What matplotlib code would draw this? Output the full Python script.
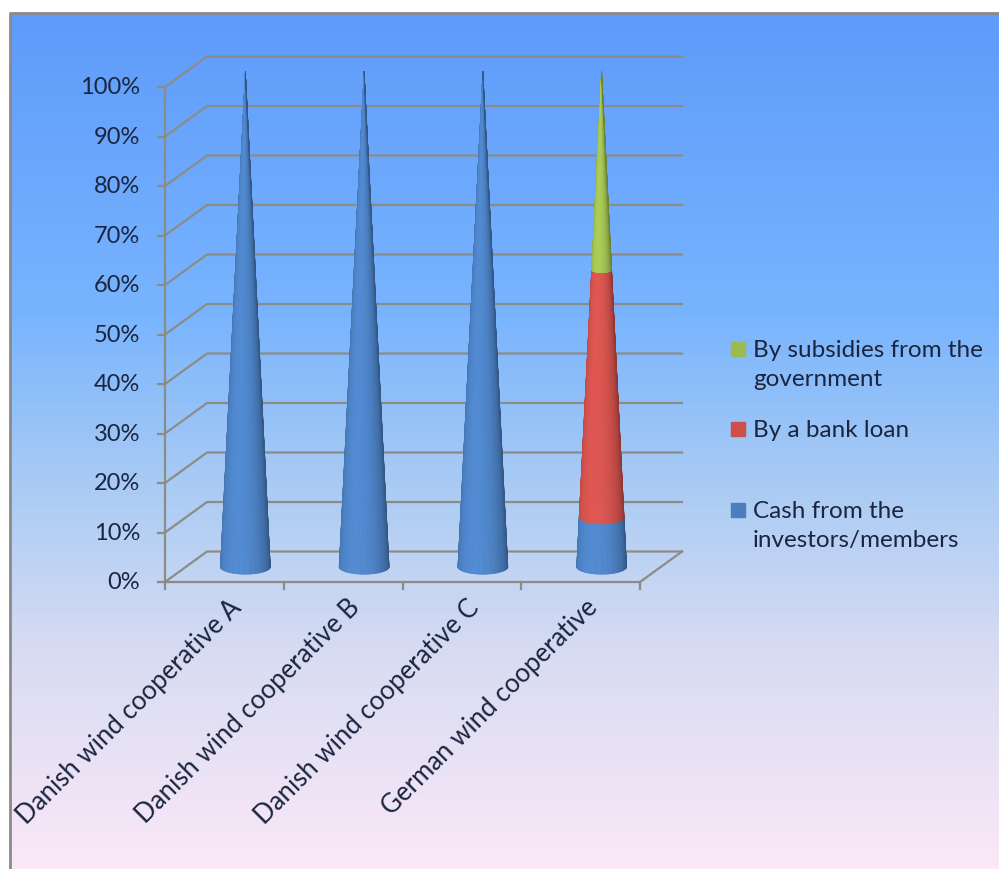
import numpy as np
import matplotlib
matplotlib.use("Agg")
import matplotlib.pyplot as plt
from matplotlib.collections import PolyCollection
from matplotlib.colors import LinearSegmentedColormap, to_rgb
from matplotlib.patches import Rectangle

plt.rcParams["font.family"] = ["Lato", "DejaVu Sans"]

categories = ["Danish wind cooperative A", "Danish wind cooperative B",
              "Danish wind cooperative C", "German wind cooperative"]
series = ["Cash from the\ninvestors/members", "By a bank loan",
          "By subsidies from the\ngovernment"]
cash = [100, 100, 100, 10]
loan = [0, 0, 0, 50]
subsidy = [0, 0, 0, 40]
colors = ["#4a7ebf", "#cc4f4a", "#9bbb4f"]
yticks = [0, 10, 20, 30, 40, 50, 60, 70, 80, 90, 100]

W, H = 999, 870
fig = plt.figure(figsize=(W / 100, H / 100), dpi=100)

# background panel with vertical gradient
bg = fig.add_axes([0, 0, 1, 1])
bg.set_xlim(0, W)
bg.set_ylim(H, 0)
bg.axis("off")
grad = LinearSegmentedColormap.from_list("bg", [
    (0.0, "#5e9bfa"), (0.35, "#78b4fe"), (0.55, "#a9cbf4"),
    (0.75, "#d8dcf2"), (1.0, "#fbe8f8")])
g = np.linspace(0, 1, 256).reshape(-1, 1)
bg.imshow(g, cmap=grad, aspect="auto", extent=[10, W, H, 14], zorder=0)
bg.plot([10, 10, W], [H, 14, 14], color="#8a8a8a", lw=2, zorder=1)

# plot area: x in category units, y in percent
x0, x1, y0, y1 = 165, 640, 583, 88
ax = fig.add_axes([x0 / W, 1 - y0 / H, (x1 - x0) / W, (y0 - y1) / H])
ax.set_xlim(0, len(categories))
ax.set_ylim(0, 100)
ax.patch.set_alpha(0)
for s in ax.spines.values():
    s.set_visible(False)
ax.set_xticks([])
ax.set_yticks([])

px_x = len(categories) / (x1 - x0)
px_y = 100 / (y0 - y1)
dx, dy = 42 * px_x, 30.5 * px_y   # depth offset of the back wall
grid_c = "#8c8c86"

for v in yticks:
    ax.plot([0, dx, len(categories) + dx], [v, v + dy, v + dy],
            color=grid_c, lw=1.6, clip_on=False, zorder=1)
    ax.plot([-7 * px_x, 0], [v, v], color=grid_c, lw=1.6, clip_on=False)
    ax.text(-25 * px_x, v, f"{v}%", ha="right", va="center",
            fontsize=17, color="#1b2540")
ax.plot([0, 0], [0, 100], color=grid_c, lw=1.6, clip_on=False)
ax.plot([0, len(categories), len(categories) + dx], [0, 0, dy],
        color=grid_c, lw=1.6, clip_on=False, zorder=1)
for i in range(len(categories) + 1):
    ax.plot([i, i], [0, -7 * px_y], color=grid_c, lw=1.6, clip_on=False)

for i, name in enumerate(categories):
    ax.text(i + 0.5 + 4 * px_x, -12 * px_y, name, rotation=45,
            rotation_mode="anchor", ha="right", va="top",
            fontsize=18.5, color="#1b2540")

# cones, stacked
r0 = 25 * px_x
e0 = 7.5 * px_y
theta = np.linspace(-np.pi / 2, np.pi / 2, 90)


def shade(rgb, t):
    k = 0.8 + 0.3 * np.cos(t + 0.35)
    return np.clip(np.array(rgb) * k, 0, 1)


def cone_point(cx, v, t):
    f = 1 - v / 100
    return cx + r0 * f * np.sin(t), v + dy / 2 - e0 * f * np.cos(t)


for i in range(len(categories)):
    cx = i + 0.5 + dx / 2
    base = 0
    for vals, col in zip([cash, loan, subsidy], colors):
        top = base + vals[i]
        if vals[i] > 0:
            polys, fcs = [], []
            rgb = to_rgb(col)
            for ta, tb in zip(theta[:-1], theta[1:]):
                pa0 = cone_point(cx, base, ta)
                pb0 = cone_point(cx, base, tb)
                pb1 = cone_point(cx, top, tb)
                pa1 = cone_point(cx, top, ta)
                polys.append([pa0, pb0, pb1, pa1])
                fcs.append(shade(rgb, (ta + tb) / 2))
            pc = PolyCollection(polys, facecolors=fcs, edgecolors=fcs,
                                linewidths=0.4, clip_on=False, zorder=3)
            ax.add_collection(pc)
        base = top

# legend
leg_items = [(series[2], colors[2], 350), (series[1], colors[1], 430),
             (series[0], colors[0], 511)]
for label, col, ypix in leg_items:
    bg.add_patch(Rectangle((731, ypix - 7), 14, 14, color=col, zorder=2))
    bg.text(753, ypix - 10, label, ha="left", va="top", fontsize=17.5,
            color="#1b2540", linespacing=1.5, zorder=2)

fig.savefig("out.png", dpi=100)
